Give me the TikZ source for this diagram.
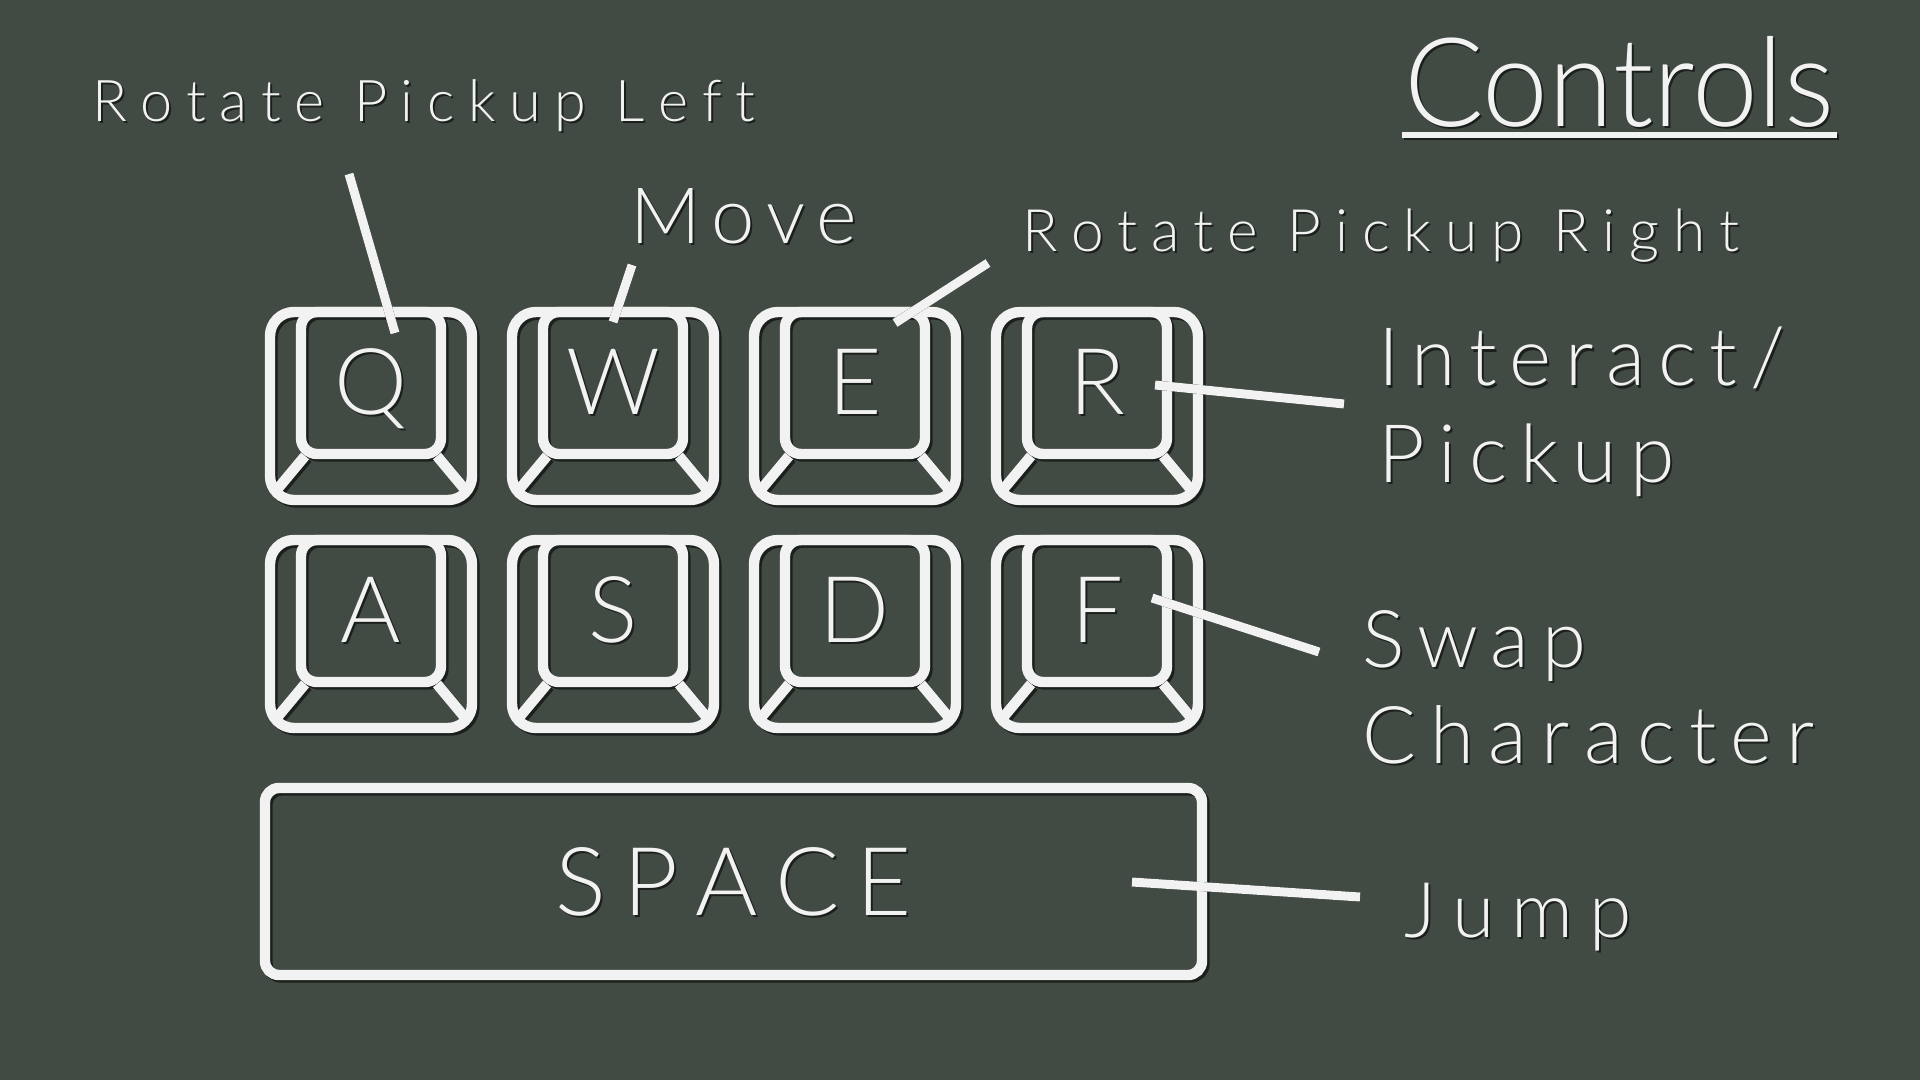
\documentclass[tikz,border=0pt]{standalone}
\usepackage{fontspec}
\usepackage{graphicx}
\IfFontExistsTF{Lato Light}{\setmainfont{Lato Light}[Scale=0.96]}{%
 \IfFontExistsTF{Open Sans Light}{\setmainfont{Open Sans Light}[Scale=0.965]}{%
  \setmainfont{Fira Sans}}}
\definecolor{bg}{HTML}{424B43}
\definecolor{fg}{HTML}{F2F2F2}
\definecolor{sh}{HTML}{1C201D}

\ExplSyntaxOn
\NewDocumentCommand\spreadto{mm}{\makebox[#1][s]{\str_map_inline:nn{#2}{\str_if_eq:nnTF{##1}{~}{~}{##1\hfil}}\unskip}}
\ExplSyntaxOff

% text with drop shadow: name, style, position, text
\newcommand\shtext[4]{%
  \node[txt,#2,text=sh,shift={(2,2)}] (#1-sh) at #3 {#4};
  \node[txt,#2] (#1) at #3 {#4};}

\newcommand\keyshape[1]{%
  \begin{scope}[#1]
    \draw[keyline] (-101,-94) rectangle (101,94);
    \draw[keyinner] (-70,-94) rectangle (70,48);
    \draw[keyline] (-66,50) -- (-96,86) (66,50) -- (96,86);
  \end{scope}}

% name, x, y, letter
\newcommand\keycap[4]{%
  \begin{scope}[shift={(#2,#3)}]
    \coordinate (#1) at (0,0);
    \keyshape{draw=sh,shift={(2.5,2.5)}}
    \keyshape{draw=fg}
    \shtext{#1-l}{keylbl}{(0,8)}{#4}
  \end{scope}}

\begin{document}
\begin{tikzpicture}[x=0.5pt,y=-0.5pt,
  txt/.style={inner sep=0pt,outer sep=0pt,text=fg},
  keylbl/.style={anchor=base,font=\fontsize{48pt}{48pt}\selectfont},
  lbl/.style={anchor=base west},
  keyline/.style={line width=5.2pt,rounded corners=12pt},
  keyinner/.style={line width=5.2pt,rounded corners=8pt},
  barline/.style={line width=5.2pt,rounded corners=7pt},
  conn/.style={line width=4.5pt,draw=fg},
  connsh/.style={line width=4.5pt,draw=sh,shift={(2.5,2.5)}}]
\fill[bg] (0,0) rectangle (1920,1080);
\useasboundingbox (0,0) rectangle (1920,1080);

% title
\shtext{title}{lbl}{(1404,127)}{\resizebox{215pt}{\height}{\fontsize{64.5pt}{64.5pt}\selectfont Controls}}
\draw[sh,line width=3pt] (1404,137) -- (1839,137);
\draw[fg,line width=3pt] (1402,135) -- (1837,135);

% keys
\keycap{q}{371}{406}{Q}
\keycap{w}{613}{406}{W}
\keycap{e}{855}{406}{E}
\keycap{r}{1097}{406}{R}
\keycap{a}{371}{634}{A}
\keycap{s}{613}{634}{S}
\keycap{d}{855}{634}{D}
\keycap{f}{1097}{634}{F}

% space bar
\draw[barline,draw=sh,shift={(2.5,2.5)}] (265,788) rectangle (1202,975);
\draw[barline,draw=fg] (265,788) rectangle (1202,975);
\shtext{space}{lbl,font=\fontsize{49.5pt}{49.5pt}\selectfont}{(555,915)}{\spreadto{178.5pt}{SPACE}}

% labels
\shtext{rpl}{lbl,font=\fontsize{30pt}{30pt}\selectfont}{(92,122)}{\spreadto{331.5pt}{Rotate Pickup Left}}
\shtext{move}{lbl,font=\fontsize{40.5pt}{40.5pt}\selectfont}{(630,244)}{\spreadto{113.5pt}{Move}}
\shtext{rpr}{lbl,font=\fontsize{30.5pt}{30.5pt}\selectfont}{(1022,252)}{\spreadto{358.5pt}{Rotate Pickup Right}}
\shtext{interact}{lbl,font=\fontsize{42pt}{42pt}\selectfont}{(1378,386)}{\spreadto{203.5pt}{Interact/}}
\shtext{pickup}{lbl,font=\fontsize{42pt}{42pt}\selectfont}{(1378,482)}{\spreadto{148.5pt}{Pickup}}
\shtext{swap}{lbl,font=\fontsize{41.5pt}{41.5pt}\selectfont}{(1362,667)}{\spreadto{112pt}{Swap}}
\shtext{character}{lbl,font=\fontsize{41.5pt}{41.5pt}\selectfont}{(1362,763)}{\spreadto{226.5pt}{Character}}
\shtext{jump}{lbl,font=\fontsize{40pt}{40pt}\selectfont}{(1404,937)}{\spreadto{114pt}{Jump}}

% connector end points
\coordinate (c1a) at (349,174);  \coordinate (c1b) at (395,333);
\coordinate (c2a) at (632,265);  \coordinate (c2b) at (613,322);
\coordinate (c3a) at (988,263);  \coordinate (c3b) at (895,323);
\coordinate (c4a) at (1155,385); \coordinate (c4b) at (1344,404);
\coordinate (c5a) at (1152,598); \coordinate (c5b) at (1319,652);
\coordinate (c6a) at (1132,882); \coordinate (c6b) at (1360,897);

\foreach \i in {1,...,6}{\draw[connsh] (c\i a) -- (c\i b);}
\foreach \i in {1,...,6}{\draw[conn] (c\i a) -- (c\i b);}
\end{tikzpicture}
\end{document}
